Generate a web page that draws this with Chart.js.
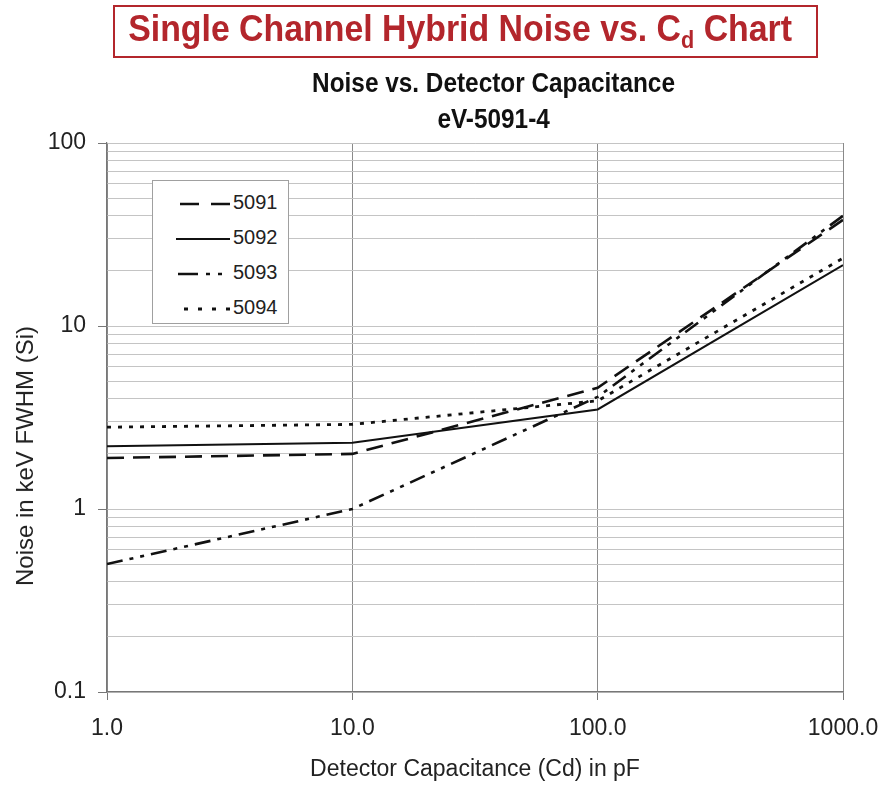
<!DOCTYPE html>
<html>
<head>
<meta charset="utf-8">
<script src="https://cdn.jsdelivr.net/npm/chart.js@4.4.1/dist/chart.umd.min.js"></script>
<style>
  html, body { margin: 0; padding: 0; background: #fff; }
  #wrap { position: relative; width: 886px; height: 787px; overflow: hidden;
    font-family: 'Liberation Sans', Arial, sans-serif; }
  #grafico { position: absolute; left: 0; top: 0; }
  #titulo { position: absolute; left: 113px; top: 5px; width: 701px; height: 49px;
    border: 2px solid #b3262c; color: #b3262c; font-weight: bold; font-size: 36px;
    text-align: center; line-height: 44px; }
  #titulo span.esc { display: inline-block; transform: translateX(-8px) scaleX(0.94); white-space: nowrap; }
  #titulo sub { font-size: 23px; vertical-align: -7px; line-height: 0; }
  .sub { position: absolute; left: 244px; width: 500px; text-align: center; font-weight: bold;
    font-size: 28px; color: #111; }
  .sub span { display: inline-block; transform: scaleX(0.87); white-space: nowrap; }
  #ytitulo { position: absolute; left: 25px; top: 456px; font-size: 24px; color: #222;
    white-space: nowrap; transform: translate(-50%, -50%) rotate(-90deg); }
  #leyenda { position: absolute; left: 152px; top: 180px; width: 135px; height: 142px;
    border: 1px solid #a0a0a0; background: #fff; }
  .item { position: absolute; left: 23px; height: 24px; font-size: 20px; color: #222; line-height: 24px; }
  .item svg { vertical-align: middle; margin-right: 3px; }
</style>
</head>
<body>
<div id="wrap">
  <canvas id="grafico" width="886" height="787"></canvas>
  <div id="titulo"><span class="esc">Single Channel Hybrid Noise vs. C<sub>d</sub> Chart</span></div>
  <div class="sub" style="top:67px"><span>Noise vs. Detector Capacitance</span></div>
  <div class="sub" style="top:103px"><span>eV-5091-4</span></div>
  <div id="ytitulo">Noise in keV FWHM (Si)</div>
  <div id="leyenda"></div>
</div>
<script>
// capacitancia del detector (pF)
const capacitancias = [1, 10, 100, 1000];

const series = ["5091", "5092", "5093", "5094"];
const ruido5091 = [1.9, 2.0, 4.6, 38];
const ruido5092 = [2.2, 2.3, 3.5, 21.5];
const ruido5093 = [0.5, 1.0, 4.1, 40];
const ruido5094 = [2.8, 2.9, 3.9, 23.5];

const ticksX = [1, 10, 100, 1000];
const etiquetasX = ["1.0", "10.0", "100.0", "1000.0"];
const decadasY = [0.1, 1, 10, 100];
const etiquetasY = ["0.1", "1", "10", "100"];

const estilos = [
  { dash: [17, 9], ancho: 2.6, muestra: [19, 12], largo: 50 },
  { dash: [], ancho: 2, muestra: [], largo: 54 },
  { dash: [16, 7, 4, 7, 4, 7], ancho: 2.6, muestra: [20, 8, 4, 8, 4, 8], largo: 52 },
  { dash: [4, 7], ancho: 2.8, muestra: [4, 10], largo: 46 },
];

const valores = [ruido5091, ruido5092, ruido5093, ruido5094];
const fuente = "'Liberation Sans', Arial, sans-serif";

function armarPuntos(ys) {
  return capacitancias.map((x, i) => ({ x: x, y: ys[i] }));
}

const datasets = series.map((nombre, i) => ({
  label: nombre,
  data: armarPuntos(valores[i]),
  borderColor: "#111",
  borderWidth: estilos[i].ancho,
  borderDash: estilos[i].dash,
  pointRadius: 0,
  fill: false,
  tension: 0,
}));

// leyenda dentro del area
const leyenda = document.getElementById("leyenda");
series.forEach((nombre, i) => {
  const e = estilos[i];
  const div = document.createElement("div");
  div.className = "item";
  div.style.top = (9 + i * 35) + "px";
  div.innerHTML = `<svg width="54" height="6"><line x1="${54 - e.largo}" y1="3" x2="54" y2="3" stroke="#111"
    stroke-width="${e.ancho}" stroke-dasharray="${e.muestra.join(",") || "none"}"/></svg>${nombre}`;
  leyenda.appendChild(div);
});

function esDecada(v) {
  const l = Math.log10(v);
  return Math.abs(l - Math.round(l)) < 1e-6;
}

const ctx = document.getElementById("grafico").getContext("2d");
new Chart(ctx, {
  type: "line",
  data: { datasets },
  options: {
    responsive: false,
    animation: false,
    layout: { padding: { top: 143, right: 43, left: 0, bottom: 0 } },
    plugins: { legend: { display: false }, title: { display: false }, tooltip: { enabled: false } },
    scales: {
      x: {
        type: "logarithmic",
        min: 1,
        max: 1000,
        afterBuildTicks: (s) => { s.ticks = ticksX.map((v) => ({ value: v })); },
        afterFit: (s) => { s.height = 95; s.paddingLeft = 0; s.paddingRight = 0; },
        ticks: {
          callback: (v) => etiquetasX[ticksX.indexOf(v)] ?? "",
          font: { family: fuente, size: 23 },
          color: "#222",
          padding: 15,
          maxRotation: 0,
          autoSkip: false,
        },
        grid: { color: "#8a8a8a", tickLength: 8, tickColor: "#777" },
        border: { color: "#777", width: 1.2 },
        title: {
          display: true,
          text: "Detector Capacitance (Cd) in pF",
          font: { family: fuente, size: 23 },
          color: "#222",
          padding: { top: 4 },
        },
      },
      y: {
        type: "logarithmic",
        min: 0.1,
        max: 100,
        afterBuildTicks: (s) => {
          const t = [];
          for (let d = 0; d < decadasY.length - 1; d++) {
            for (let k = 1; k <= 9; k++) t.push({ value: +(decadasY[d] * k).toPrecision(3) });
          }
          t.push({ value: decadasY[decadasY.length - 1] });
          s.ticks = t;
        },
        afterFit: (s) => { s.width = 107; s.paddingTop = 0; s.paddingBottom = 0; },
        ticks: {
          callback: (v) => {
            const i = decadasY.findIndex((d) => Math.abs(d - v) < 1e-9);
            return i >= 0 ? etiquetasY[i] : "";
          },
          font: { family: fuente, size: 23 },
          color: "#222",
          padding: 12,
          autoSkip: false,
        },
        grid: {
          color: "#c4c4c4",
          tickLength: 9,
          tickColor: (c) => (c.tick && esDecada(c.tick.value) ? "#777" : "rgba(0,0,0,0)"),
        },
        border: { color: "#777", width: 1.2 },
      },
    },
  },
});
</script>
</body>
</html>
